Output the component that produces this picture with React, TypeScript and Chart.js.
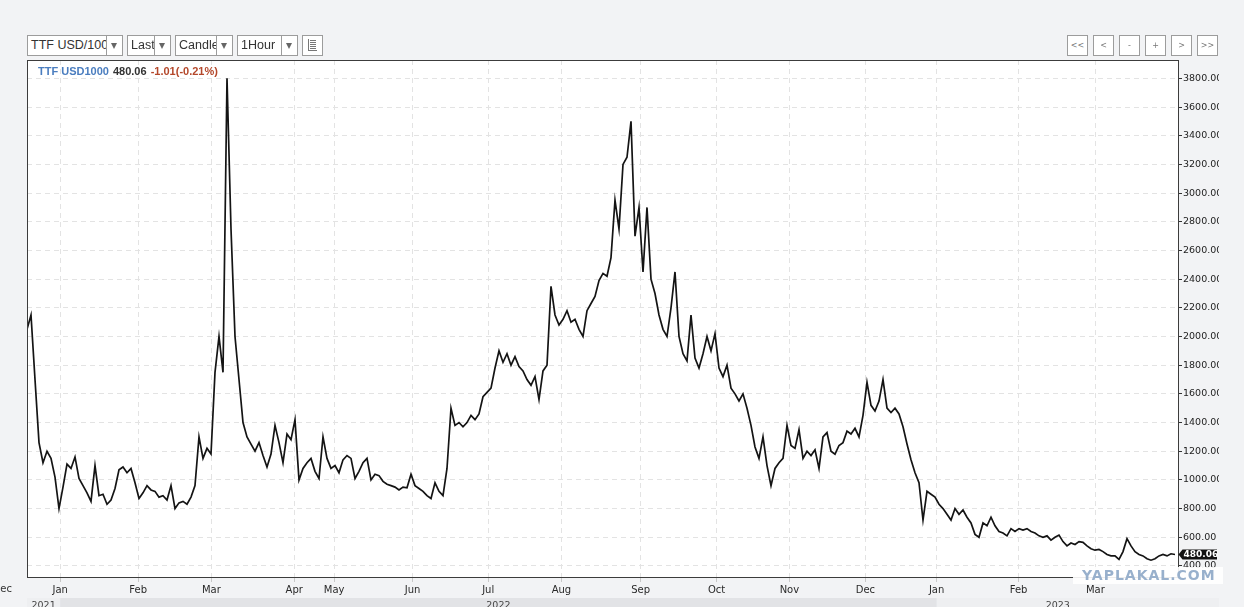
import React, { useEffect, useRef } from "react";
import { Chart, registerables } from "chart.js";

Chart.register(...registerables);

const seriesName = "TTF USD1000";
const lastPrice = 480.06;
const changeText = "-1.01(-0.21%)";

// hourly-candle close, one sample every few sessions (trading-time index)
const prices = [
  2050, 2150, 1700, 1260, 1120, 1200, 1150, 1020, 800, 950,
  1110, 1080, 1160, 1010, 960, 910, 850, 1100, 890, 900,
  830, 860, 940, 1070, 1090, 1050, 1080, 980, 870, 910,
  960, 930, 920, 880, 890, 860, 960, 800, 840, 850,
  830, 880, 960, 1300, 1150, 1220, 1180, 1750, 2000, 1750,
  3800, 2750, 2000, 1700, 1400, 1300, 1250, 1200, 1260, 1170,
  1090, 1180, 1380, 1260, 1120, 1320, 1280, 1420, 1000, 1080,
  1120, 1150, 1060, 1010, 1300, 1150, 1080, 1100, 1050, 1140,
  1170, 1150, 1010, 1060, 1120, 1150, 1000, 1040, 1030, 990,
  970, 960, 950, 930, 950, 945, 1040, 960, 940, 920,
  890, 870, 980, 920, 890, 1080, 1500, 1380, 1400, 1370,
  1400, 1450, 1420, 1460, 1580, 1610, 1640, 1780, 1900, 1820,
  1880, 1800, 1860, 1790, 1760, 1700, 1660, 1720, 1560, 1760,
  1800, 2350, 2150, 2080, 2120, 2180, 2100, 2120, 2050, 2000,
  2180, 2230, 2280, 2390, 2440, 2420, 2550, 2950, 2750, 3200,
  3250, 3500, 2700, 2900, 2450, 2900, 2400, 2300, 2150, 2050,
  2000, 2200, 2450, 2000, 1880, 1830, 2150, 1850, 1780, 1880,
  2000, 1900, 2020, 1780, 1720, 1800, 1640, 1600, 1550, 1600,
  1500, 1380, 1230, 1150, 1300, 1100, 960, 1080, 1120, 1150,
  1380, 1240, 1220, 1350, 1150, 1200, 1170, 1210, 1080, 1300,
  1330, 1200, 1180, 1240, 1260, 1340, 1320, 1360, 1300, 1450,
  1680, 1520, 1480, 1550, 1700, 1500, 1470, 1500, 1460, 1370,
  1250, 1140, 1050, 980, 720, 920, 900, 880, 830, 800,
  760, 720, 800, 760, 790, 740, 700, 620, 600, 700,
  680, 740, 680, 640, 630, 610, 660, 640, 660, 650,
  660, 640, 630, 610, 600, 610, 580, 600, 615, 570,
  540, 560, 550, 570, 565, 540, 520, 510, 515, 500,
  480, 470, 470, 445, 500, 590, 540, 500, 480, 470,
  450, 440, 450, 470, 480, 470, 485, 480.06,
];

const monthLabels = ["Dec", "Jan", "Feb", "Mar", "Apr", "May", "Jun", "Jul", "Aug", "Sep", "Oct", "Nov", "Dec", "Jan", "Feb", "Mar"];
const monthStarts = [-6.2, 8.3, 27.8, 46.1, 66.8, 76.8, 96.4, 115.3, 133.6, 153.4, 172.4, 190.6, 209.6, 227.4, 247.9, 267.1];

const yearLabels = ["2021", "2022", "2023"];
const yearStarts = [-60, 8.3, 227.4];
const yearEnds = [8.3, 227.4, 400];

const yTicks = [400, 600, 800, 1000, 1200, 1400, 1600, 1800, 2000, 2200, 2400, 2600, 2800, 3000, 3200, 3400, 3600, 3800];

const X_MIN = 0;
const X_MAX = 288;
const Y_MIN = 316;
const Y_MAX = 3928;

const PAGE_BG = "#f2f3f5";
const AXIS_FONT = "DejaVu Sans";

const framePlugin = {
  id: "framePlugin",
  beforeDraw(chart: any) {
    const { ctx, chartArea: a } = chart;
    ctx.save();
    ctx.fillStyle = "#ffffff";
    ctx.fillRect(a.left, a.top, a.right - a.left, a.bottom - a.top);
    ctx.restore();
  },
  afterDraw(chart: any) {
    const { ctx, chartArea: a, scales } = chart;
    const xs = scales.x;
    const ys = scales.y;
    const W = chart.width;
    ctx.save();
    // frame
    ctx.strokeStyle = "#3c3c3c";
    ctx.lineWidth = 1;
    ctx.strokeRect(Math.round(a.left) + 0.5, Math.round(a.top) + 0.5, Math.round(a.right - a.left) - 1, Math.round(a.bottom - a.top) - 1);

    // month labels left of the visible range
    ctx.fillStyle = "#333";
    ctx.font = `10px "${AXIS_FONT}"`;
    ctx.textAlign = "center";
    ctx.textBaseline = "top";
    monthStarts.forEach((m, i) => {
      if (m < X_MIN) ctx.fillText(monthLabels[i], xs.getPixelForValue(m), a.bottom + 6);
    });

    // year band
    const bandTop = 598;
    ctx.fillStyle = "#eeeff1";
    ctx.fillRect(a.left, bandTop, W - a.left, chart.height - bandTop);
    yearLabels.forEach((lab, i) => {
      const x0 = Math.max(a.left, xs.getPixelForValue(yearStarts[i]));
      const x1 = Math.min(a.right, xs.getPixelForValue(yearEnds[i]));
      if (i % 2 === 1) {
        ctx.fillStyle = "#e2e3e6";
        ctx.fillRect(x0, bandTop, x1 - x0, chart.height - bandTop);
      }
    });
    ctx.fillStyle = "#444";
    ctx.font = `9.5px "${AXIS_FONT}"`;
    ctx.textAlign = "center";
    ctx.textBaseline = "top";
    yearLabels.forEach((lab, i) => {
      const x0 = Math.max(a.left, xs.getPixelForValue(yearStarts[i]));
      const x1 = Math.min(a.right, xs.getPixelForValue(yearEnds[i]));
      ctx.fillText(lab, (x0 + x1) / 2, 601);
    });

    // legend line
    ctx.textAlign = "left";
    ctx.textBaseline = "alphabetic";
    ctx.font = `bold 11px "Liberation Sans"`;
    let lx = a.left + 11;
    const ly = a.top + 14.5;
    const sp = ctx.measureText(" ").width + 1;
    ctx.fillStyle = "#4a7dbf";
    ctx.fillText(seriesName, lx, ly);
    lx += ctx.measureText(seriesName).width + sp;
    const priceStr = lastPrice.toFixed(2);
    ctx.fillStyle = "#333333";
    ctx.fillText(priceStr, lx, ly);
    lx += ctx.measureText(priceStr).width + sp;
    ctx.fillStyle = "#b4482b";
    ctx.fillText(changeText, lx, ly);

    // last price tag
    const yc = Math.round(ys.getPixelForValue(lastPrice)) + 0.5;
    const tx = a.right - 0.5;
    ctx.fillStyle = "#111";
    ctx.beginPath();
    ctx.moveTo(tx, yc);
    ctx.lineTo(tx + 4, yc - 5);
    ctx.lineTo(W - 2, yc - 5);
    ctx.lineTo(W - 2, yc + 5);
    ctx.lineTo(tx + 4, yc + 5);
    ctx.closePath();
    ctx.fill();
    ctx.fillStyle = "#ffffff";
    ctx.font = `bold 9px "${AXIS_FONT}"`;
    ctx.textBaseline = "middle";
    ctx.fillText(priceStr, tx + 5, yc + 0.5);
    ctx.restore();
  },
};

function ToolButton({ left, width, text, arrow }: { left: number; width: number; text?: string; arrow?: boolean }) {
  return (
    <div
      style={{
        position: "absolute",
        left,
        top: 35,
        width,
        height: 21,
        boxSizing: "border-box",
        border: "1px solid #9c9c9c",
        background: "#fff",
        overflow: "hidden",
        whiteSpace: "nowrap",
        fontFamily: '"Liberation Sans", Arial, sans-serif',
        fontSize: 12.5,
        lineHeight: "19px",
        color: "#333",
        paddingLeft: 3,
      }}
    >
      {text}
      {arrow ? (
        <span
          style={{
            position: "absolute",
            left: (width - 2) / 2 - 3.5,
            top: 7,
            width: 0,
            height: 0,
            borderLeft: "3.5px solid transparent",
            borderRight: "3.5px solid transparent",
            borderTop: "6px solid #666",
          }}
        />
      ) : null}
    </div>
  );
}

function NavButton({ left, text }: { left: number; text: string }) {
  return (
    <div
      style={{
        position: "absolute",
        left,
        top: 35,
        width: 21,
        height: 21,
        boxSizing: "border-box",
        border: "1px solid #9c9c9c",
        background: "#fff",
        textAlign: "center",
        fontFamily: '"DejaVu Sans", sans-serif',
        fontSize: 8,
        lineHeight: "19px",
        color: "#777",
      }}
    >
      {text}
    </div>
  );
}

const navTexts = ["<<", "<", "-", "+", ">", ">>"];

export default function App() {
  const canvasRef = useRef<HTMLCanvasElement | null>(null);

  useEffect(() => {
    document.body.style.margin = "0";
    document.body.style.background = PAGE_BG;
    const canvas = canvasRef.current;
    if (!canvas) return;
    const chart = new Chart(canvas, {
      type: "line",
      data: {
        datasets: [
          {
            data: prices.map((y, i) => ({ x: i, y })),
            borderColor: "#141414",
            borderWidth: 1.7,
            pointRadius: 0,
            tension: 0,
            fill: false,
          },
        ],
      },
      options: {
        animation: false,
        responsive: false,
        events: [],
        layout: { padding: { left: 27, top: 60, right: 0, bottom: 0 } },
        plugins: { legend: { display: false }, tooltip: { enabled: false } },
        scales: {
          x: {
            type: "linear",
            min: X_MIN,
            max: X_MAX,
            afterBuildTicks: (s: any) => {
              s.ticks = monthStarts.filter((v) => v >= X_MIN && v <= X_MAX).map((v) => ({ value: v }));
            },
            afterFit: (s: any) => {
              s.height = 29;
            },
            ticks: {
              autoSkip: false,
              maxRotation: 0,
              minRotation: 0,
              padding: 2,
              color: "#2a2a2a",
              font: { family: AXIS_FONT, size: 10 },
              callback: (v: any) => {
                const k = monthStarts.indexOf(Number(v));
                return k >= 0 ? monthLabels[k] : "";
              },
            },
            grid: { color: "#e3e3e3", tickColor: "#c8c8c8", tickLength: 4, lineWidth: 1 },
            border: { display: false, dash: [5, 4] },
          },
          y: {
            type: "linear",
            position: "right",
            min: Y_MIN,
            max: Y_MAX,
            afterBuildTicks: (s: any) => {
              s.ticks = yTicks.map((v) => ({ value: v }));
            },
            afterFit: (s: any) => {
              s.width = 40;
            },
            ticks: {
              padding: 1,
              color: "#222",
              font: { family: AXIS_FONT, size: 9.5 },
              callback: (v: any) => Number(v).toFixed(2),
            },
            grid: { color: "#e3e3e3", tickColor: "#333", tickLength: 3, lineWidth: 1 },
            border: { display: false, dash: [5, 4] },
          },
        },
      } as any,
      plugins: [framePlugin],
    });
    return () => chart.destroy();
  }, []);

  return (
    <div style={{ position: "relative", width: 1244, height: 607, background: PAGE_BG, overflow: "hidden" }}>
      <canvas ref={canvasRef} width={1219} height={607} style={{ position: "absolute", left: 0, top: 0 }} />
      <ToolButton left={27} width={80} text="TTF USD/100" />
      <ToolButton left={106} width={17} arrow />
      <ToolButton left={127} width={28} text="Last" />
      <ToolButton left={154} width={17} arrow />
      <ToolButton left={175} width={42} text="Candle" />
      <ToolButton left={216} width={17} arrow />
      <ToolButton left={237} width={45} text="1Hour" />
      <ToolButton left={281} width={17} arrow />
      <div
        style={{
          position: "absolute",
          left: 302,
          top: 35,
          width: 21,
          height: 21,
          boxSizing: "border-box",
          border: "1px solid #9c9c9c",
          background: "#fff",
        }}
      >
        <svg width="19" height="19" style={{ position: "absolute", left: 0, top: 0 }}>
          <g stroke="#777" strokeWidth="1" shapeRendering="crispEdges">
            <line x1="5.5" y1="3" x2="5.5" y2="15" />
            <line x1="5" y1="14.5" x2="14" y2="14.5" />
            <line x1="7" y1="4.5" x2="13" y2="4.5" />
            <line x1="7" y1="6.5" x2="13" y2="6.5" />
            <line x1="7" y1="8.5" x2="13" y2="8.5" />
            <line x1="7" y1="10.5" x2="13" y2="10.5" />
            <line x1="7" y1="12.5" x2="13" y2="12.5" />
          </g>
        </svg>
      </div>
      {navTexts.map((t, i) => (
        <NavButton key={i} left={1067 + i * 26} text={t} />
      ))}
      <div
        style={{
          position: "absolute",
          left: 1073,
          top: 567,
          width: 150,
          height: 17,
          background: "rgba(255,255,255,0.9)",
          boxSizing: "border-box",
          paddingLeft: 9,
          fontFamily: '"DejaVu Sans", sans-serif',
          fontWeight: "bold",
          fontSize: 14,
          letterSpacing: 1,
          lineHeight: "17px",
          color: "#98b0cc",
          whiteSpace: "nowrap",
          overflow: "hidden",
        }}
      >
        YAPLAKAL.COM
      </div>
    </div>
  );
}
